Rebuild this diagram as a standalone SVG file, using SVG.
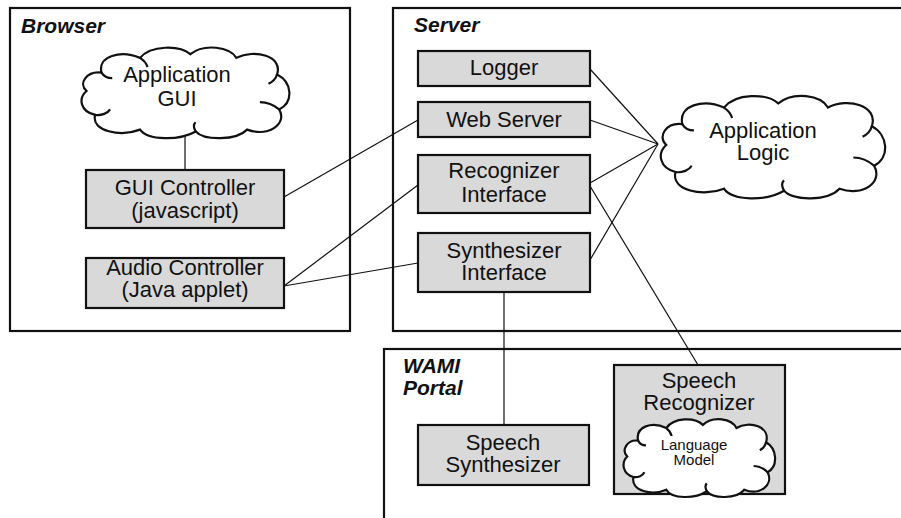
<svg xmlns="http://www.w3.org/2000/svg" width="901" height="518" viewBox="0 0 901 518">
<style>
.frame{fill:none;stroke:#111;stroke-width:2.2}
.box{fill:#d9d9d9;stroke:#111;stroke-width:2.2}
.cloud{fill:#fff;stroke:#111;stroke-width:2.2;vector-effect:non-scaling-stroke}
.hook{fill:none;stroke:#111;stroke-width:2.2;vector-effect:non-scaling-stroke}
.t{font-family:"Liberation Sans",Arial,sans-serif;font-size:22px;fill:#111;text-anchor:middle}
.s{font-family:"Liberation Sans",Arial,sans-serif;font-size:15px;fill:#111;text-anchor:middle}
.title{font-family:"Liberation Sans",Arial,sans-serif;font-size:21px;font-weight:bold;font-style:italic;fill:#111}
.c{fill:none;stroke:#111;stroke-width:1.2}
</style>
<defs>
<g id="cloudShape">
<path class="cloud" d="M 8,50 C 0,42 8,28 22,30 C 18,12 40,5 58,14 C 68,0 95,0 105,10 C 118,-2 142,2 148,14 C 165,4 192,12 186,32 C 200,40 202,62 188,70 C 196,86 178,100 158,92 C 148,104 118,104 110,94 C 95,104 65,104 58,92 C 40,100 12,94 16,76 C 2,72 0,58 8,50 Z"/>
<path class="hook" d="M 16,76 C 22,77 28,74 30,70 M 188,70 C 182,64 176,62 170,62 M 110,94 C 108,90 108,86 110,84 M 58,14 C 62,17 64,20 65,24 M 186,32 C 185,36 182,40 178,42 M 22,30 C 24,34 28,36 32,36"/>
</g>
</defs>
<rect width="901" height="518" fill="#fff"/>

<g id="browser">
<rect class="frame" x="10" y="8" width="340" height="323"/>
<text class="title" x="21" y="33">Browser</text>
</g>
<g id="server">
<rect class="frame" x="393" y="8" width="520" height="323"/>
<text class="title" x="414" y="32">Server</text>
</g>
<g id="wami">
<rect class="frame" x="384" y="349" width="530" height="180"/>
<text class="title" x="403" y="373">WAMI</text>
<text class="title" x="403" y="395">Portal</text>
</g>

<g id="connectors">
<line class="c" x1="185" y1="135" x2="185" y2="170"/>
<line class="c" x1="284" y1="197" x2="418" y2="120"/>
<line class="c" x1="284" y1="286" x2="418" y2="185"/>
<line class="c" x1="284" y1="286" x2="418" y2="263"/>
<line class="c" x1="590" y1="69" x2="658" y2="144"/>
<line class="c" x1="590" y1="120" x2="658" y2="144"/>
<line class="c" x1="590" y1="183" x2="658" y2="144"/>
<line class="c" x1="590" y1="260" x2="658" y2="144"/>
<line class="c" x1="504" y1="292" x2="504" y2="425"/>
<line class="c" x1="590" y1="186" x2="698" y2="365"/>
</g>

<g id="app-gui">
<use href="#cloudShape" transform="translate(78,45) scale(1.07,0.92)"/>
<text class="t" x="177" y="82">Application</text>
<text class="t" x="177" y="106">GUI</text>
</g>
<g id="gui-controller">
<rect class="box" x="86" y="170" width="198" height="58"/>
<text class="t" x="185" y="195">GUI Controller</text>
<text class="t" x="185" y="218">(javascript)</text>
</g>
<g id="audio-controller">
<rect class="box" x="86" y="258" width="198" height="50"/>
<text class="t" x="185" y="275">Audio Controller</text>
<text class="t" x="185" y="297">(Java applet)</text>
</g>

<g id="logger">
<rect class="box" x="418" y="51" width="172" height="35"/>
<text class="t" x="504" y="75">Logger</text>
</g>
<g id="web-server">
<rect class="box" x="418" y="102" width="172" height="35"/>
<text class="t" x="504" y="127">Web Server</text>
</g>
<g id="recognizer-interface">
<rect class="box" x="418" y="155" width="172" height="58"/>
<text class="t" x="504" y="178">Recognizer</text>
<text class="t" x="504" y="202">Interface</text>
</g>
<g id="synthesizer-interface">
<rect class="box" x="418" y="233" width="172" height="59"/>
<text class="t" x="504" y="258">Synthesizer</text>
<text class="t" x="504" y="280">Interface</text>
</g>
<g id="app-logic">
<use href="#cloudShape" transform="translate(657,93) scale(1.155,1.04)"/>
<text class="t" x="763" y="138">Application</text>
<text class="t" x="763" y="160">Logic</text>
</g>

<g id="speech-synthesizer">
<rect class="box" x="418" y="425" width="171" height="60"/>
<text class="t" x="503" y="450">Speech</text>
<text class="t" x="503" y="472">Synthesizer</text>
</g>
<g id="speech-recognizer">
<rect class="box" x="614" y="365" width="171" height="129"/>
<text class="t" x="699" y="388">Speech</text>
<text class="t" x="699" y="410">Recognizer</text>
<g id="language-model">
<use href="#cloudShape" transform="translate(621,417) scale(0.78,0.79)"/>
<text class="s" x="694" y="450">Language</text>
<text class="s" x="694" y="465">Model</text>
</g>
</g>
</svg>
